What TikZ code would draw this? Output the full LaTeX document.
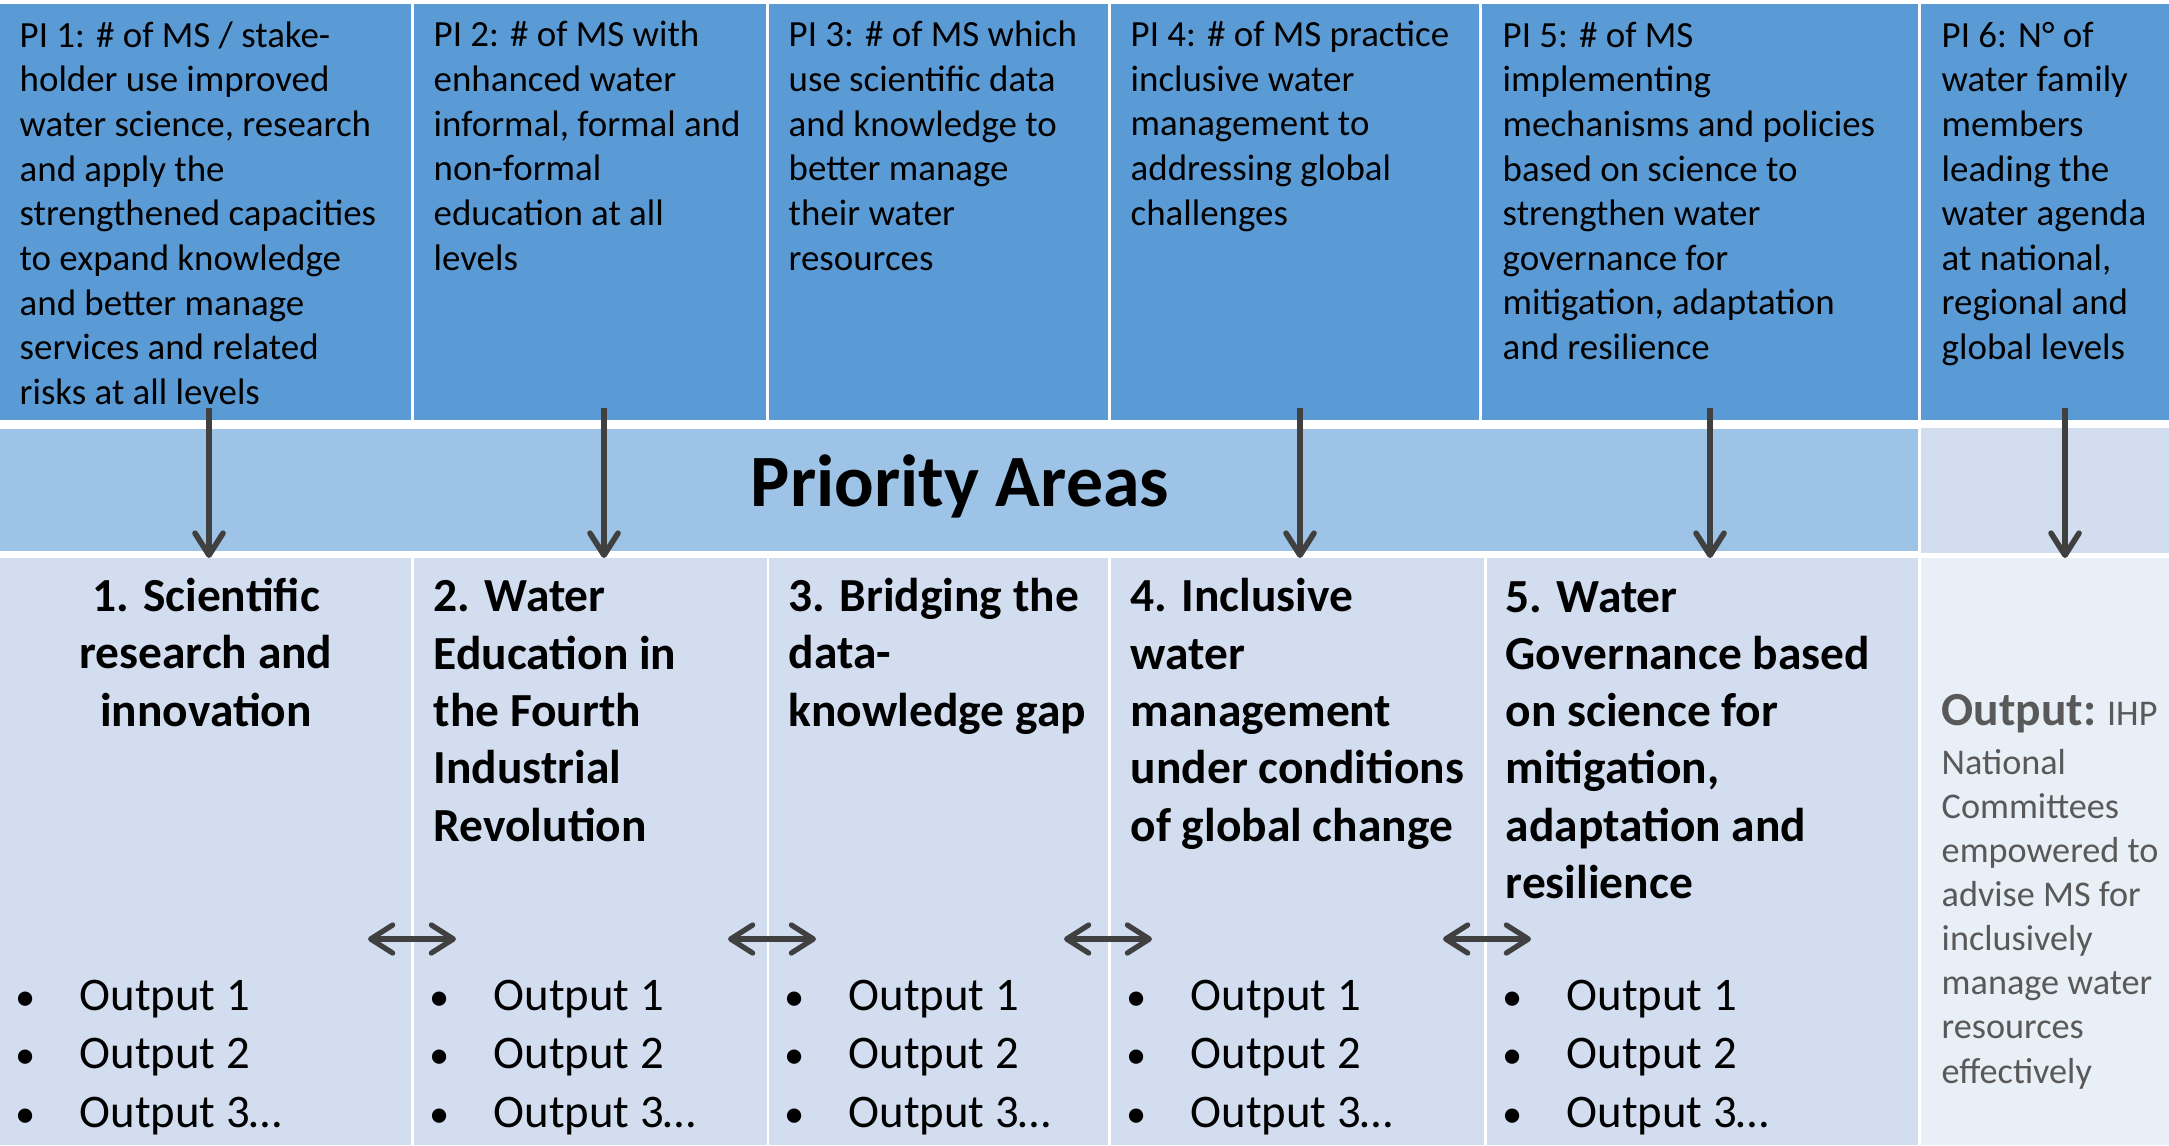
\documentclass[tikz,border=0pt]{standalone}
\usepackage{fontspec}
\setmainfont{Carlito}
\usepackage{xcolor}
\usepackage{tikz}
\usetikzlibrary{arrows.meta}
\definecolor{PIBlue}{HTML}{5B9BD5}
\definecolor{BandBlue}{HTML}{9DC3E6}
\definecolor{AreaBlue}{HTML}{D2DEEF}
\definecolor{PaleBlue}{HTML}{E9EFF7}
\definecolor{ArrowGray}{HTML}{404040}
\definecolor{TextGray}{HTML}{595959}

\begin{document}
\begin{tikzpicture}[
  pitext/.style={anchor=base west, inner sep=0pt, align=left, font=\fontsize{10.5}{12.7}\selectfont},
  areatext/.style={anchor=base west, inner sep=0pt, align=left, font=\fontsize{13.5}{16.3}\selectfont\bfseries},
  outtext/.style={anchor=base west, inner sep=0pt, align=left, font=\fontsize{13.3}{16.6}\selectfont},
  bultext/.style={anchor=base, inner sep=0pt, align=center, font=\fontsize{11.5}{16.6}\selectfont},
  downarrow/.style={ArrowGray, line width=1.6pt, -{Straight Barb[length=2.2mm,width=2.8mm,round]}},
  botharrow/.style={ArrowGray, line width=1.5pt, {Straight Barb[length=2.2mm,width=2.8mm,round]}-{Straight Barb[length=2.2mm,width=2.8mm,round]}}
]
\useasboundingbox (0,0) rectangle (21.69,11.45);
\fill[white] (0,0) rectangle (21.69,11.45);

\fill[PIBlue] (0,7.25) rectangle (4.11,11.41);
\fill[PIBlue] (4.14,7.25) rectangle (7.66,11.41);
\fill[PIBlue] (7.69,7.25) rectangle (11.08,11.41);
\fill[PIBlue] (11.11,7.25) rectangle (14.79,11.41);
\fill[PIBlue] (14.82,7.25) rectangle (19.18,11.41);
\fill[PIBlue] (19.21,7.25) rectangle (21.69,11.41);

\fill[BandBlue] (0,5.94) rectangle (19.18,7.16);
\fill[AreaBlue] (19.21,5.92) rectangle (21.69,7.17);

\fill[AreaBlue] (0,0) rectangle (4.11,5.87);
\fill[AreaBlue] (4.14,0) rectangle (7.67,5.87);
\fill[AreaBlue] (7.69,0) rectangle (11.08,5.87);
\fill[AreaBlue] (11.11,0) rectangle (14.84,5.87);
\fill[AreaBlue] (14.87,0) rectangle (19.18,5.87);
\fill[PaleBlue] (19.21,0) rectangle (21.69,5.87);

% multi-line nodes sit on the baseline of their last line
\node[pitext] (pi1) at (0.19,7.406) {PI 1: \# of MS / stake-\\holder use improved\\water science, research\\and apply the\\strengthened capacities\\to expand knowledge\\and better manage\\services and related\\risks at all levels};
\node[pitext] (pi2) at (4.33,8.75) {PI 2: \# of MS with\\enhanced water\\informal, formal and\\non-formal\\education at all\\levels};
\node[pitext] (pi3) at (7.88,8.75) {PI 3: \# of MS which\\use scientific data\\and knowledge to\\better manage\\their water\\resources};
\node[pitext] (pi4) at (11.30,9.198) {PI 4: \# of MS practice\\inclusive water\\management to\\addressing global\\challenges};
\node[pitext] (pi5) at (15.02,7.854) {PI 5: \# of MS\\implementing\\mechanisms and policies\\based on science to\\strengthen water\\governance for\\mitigation, adaptation\\and resilience};
\node[pitext] (pi6) at (19.41,7.854) {PI 6: N° of\\water family\\members\\leading the\\water agenda\\at national,\\regional and\\global levels};

\node[anchor=base, inner sep=0pt, font=\fontsize{21}{25}\selectfont\bfseries] (prio) at (9.60,6.39) {Priority Areas};

\node[areatext, anchor=base, align=center] (area1) at (2.06,4.19) {1. Scientific\\research and\\innovation};
\node[areatext] (area2) at (4.33,3.04) {2. Water\\Education in\\the Fourth\\Industrial\\Revolution};
\node[areatext] (area3) at (7.88,4.19) {3. Bridging the\\data-\\knowledge gap};
\node[areatext] (area4) at (11.30,3.04) {4. Inclusive\\water\\management\\under conditions\\of global change};
\node[areatext] (area5) at (15.05,2.465) {5. Water\\Governance based\\on science for\\mitigation,\\adaptation and\\resilience};

\node[bultext] (bul1) at (0.26,0.18) {•\\•\\•};
\node[outtext] (out1) at (0.79,0.18) {Output 1\\Output 2\\Output 3…};
\node[bultext] (bul2) at (4.40,0.18) {•\\•\\•};
\node[outtext] (out2) at (4.93,0.18) {Output 1\\Output 2\\Output 3…};
\node[bultext] (bul3) at (7.95,0.18) {•\\•\\•};
\node[outtext] (out3) at (8.48,0.18) {Output 1\\Output 2\\Output 3…};
\node[bultext] (bul4) at (11.37,0.18) {•\\•\\•};
\node[outtext] (out4) at (11.90,0.18) {Output 1\\Output 2\\Output 3…};
\node[bultext] (bul5) at (15.13,0.18) {•\\•\\•};
\node[outtext] (out5) at (15.66,0.18) {Output 1\\Output 2\\Output 3…};

\node[anchor=base west, inner sep=0pt, TextGray, font=\fontsize{10.3}{12.6}\selectfont] (ihp) at (19.41,4.20) {{\fontsize{13.5}{16}\selectfont\bfseries Output:} IHP};
\node[anchor=base west, inner sep=0pt, align=left, TextGray, font=\fontsize{10.3}{12.55}\selectfont] (ihptext) at (19.41,0.62) {National\\Committees\\empowered to\\advise MS for\\inclusively\\manage water\\resources\\effectively};

\coordinate (d1s) at (2.09,7.37);  \coordinate (d1e) at (2.09,5.87);
\coordinate (d2s) at (6.04,7.37);  \coordinate (d2e) at (6.04,5.87);
\coordinate (d3s) at (13.00,7.37); \coordinate (d3e) at (13.00,5.87);
\coordinate (d4s) at (17.10,7.37); \coordinate (d4e) at (17.10,5.87);
\coordinate (d5s) at (20.65,7.37); \coordinate (d5e) at (20.65,5.87);
\draw[downarrow] (d1s) -- (d1e);
\draw[downarrow] (d2s) -- (d2e);
\draw[downarrow] (d3s) -- (d3e);
\draw[downarrow] (d4s) -- (d4e);
\draw[downarrow] (d5s) -- (d5e);

\coordinate (h1a) at (3.68,2.06);  \coordinate (h1b) at (4.56,2.06);
\coordinate (h2a) at (7.28,2.06);  \coordinate (h2b) at (8.16,2.06);
\coordinate (h3a) at (10.64,2.06); \coordinate (h3b) at (11.52,2.06);
\coordinate (h4a) at (14.43,2.06); \coordinate (h4b) at (15.31,2.06);
\draw[botharrow] (h1a) -- (h1b);
\draw[botharrow] (h2a) -- (h2b);
\draw[botharrow] (h3a) -- (h3b);
\draw[botharrow] (h4a) -- (h4b);
\end{tikzpicture}
\end{document}
